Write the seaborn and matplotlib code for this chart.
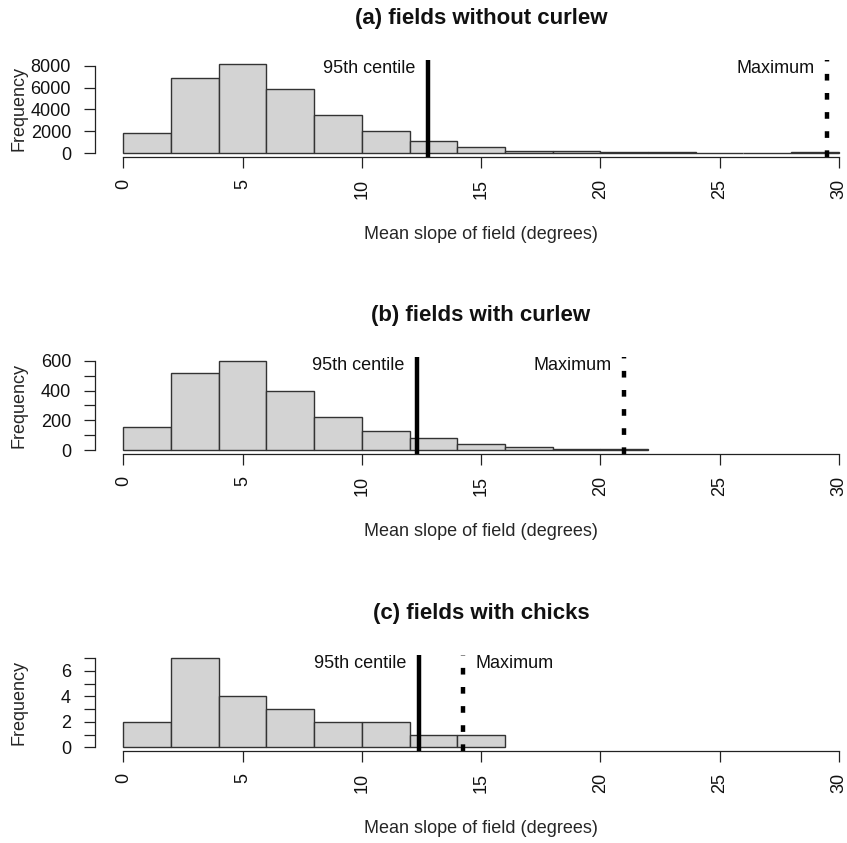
import numpy as np
import pandas as pd
import matplotlib
matplotlib.use("Agg")
import matplotlib.pyplot as plt
import matplotlib.transforms as mtransforms
import seaborn as sns

# ---------------- data ----------------
edges_a = list(range(0, 32, 2))
counts_a = [1830, 6900, 8180, 5850, 3500, 2040, 1080, 540, 230, 200, 90, 80, 70, 15, 80]
edges_b = list(range(0, 24, 2))
counts_b = [155, 520, 600, 396, 224, 125, 78, 38, 20, 10, 8]
edges_c = list(range(0, 18, 2))
counts_c = [2, 7, 4, 3, 2, 2, 1, 1]

titles = ["(a) fields without curlew", "(b) fields with curlew", "(c) fields with chicks"]
centile95 = [12.77, 12.31, 12.39]
maximum = [29.5, 21.0, 14.24]
max_label_side = ["left", "left", "right"]
yticks_major = [[0, 2000, 4000, 6000, 8000], [0, 200, 400, 600], [0, 2, 4, 6]]
yticks_minor = [[], [100, 300, 500], [1, 3, 5, 7]]
ytop = [8000, 600, 7]
xticks = [0, 5, 10, 15, 20, 25, 30]
xlabel = "Mean slope of field (degrees)"
ylabel = "Frequency"

# ---------------- style ----------------
sns.set_style("white")
plt.rcParams["font.family"] = ["Liberation Sans", "DejaVu Sans"]
plt.rcParams["text.color"] = "#111111"

W, H = 847, 843
fig = plt.figure(figsize=(W / 100, H / 100), dpi=100)

# plot-region pixel extents (top, bottom)
regions = [(60.1, 156.9), (357.4, 453.6), (654.7, 750.9)]
left_px, right_px = 94.7, 867.4

panels = [(edges_a, counts_a), (edges_b, counts_b), (edges_c, counts_c)]

for i, ((edges, counts), (tp, bp)) in enumerate(zip(panels, regions)):
    ax = fig.add_axes([left_px / W, 1 - bp / H, (right_px - left_px) / W, (bp - tp) / H])
    mids = [(edges[k] + edges[k + 1]) / 2 for k in range(len(counts))]
    df = pd.DataFrame({"slope": mids, "n": counts})
    sns.histplot(data=df, x="slope", weights="n", bins=edges, ax=ax,
                 color="#D3D3D3", edgecolor="#333333", linewidth=1.0, alpha=1.0)
    M = max(counts)
    ax.set_xlim(-1.2, 31.2)
    ax.set_ylim(-0.04 * M, 1.04 * M)

    for s in ["top", "right"]:
        ax.spines[s].set_visible(False)
    ax.spines["left"].set_bounds(0, ytop[i])
    ax.spines["bottom"].set_bounds(0, 30)
    for s in ["left", "bottom"]:
        ax.spines[s].set_color("#222222")
        ax.spines[s].set_linewidth(0.9)

    ax.set_xticks(xticks)
    ax.set_xticklabels([str(t) for t in xticks], rotation=90)
    ax.set_yticks(yticks_major[i])
    ax.set_yticklabels([str(t) for t in yticks_major[i]])
    if yticks_minor[i]:
        ax.set_yticks(yticks_minor[i], minor=True)
    ax.tick_params(axis="both", which="both", direction="out", length=8, width=0.9,
                   color="#222222", labelsize=13, labelcolor="#111111")
    ax.tick_params(axis="x", pad=8, bottom=True)
    ax.tick_params(axis="y", pad=9, left=True)
    ax.tick_params(axis="y", which="minor", length=8, left=True)

    ax.set_title(titles[i], fontsize=16, fontweight="bold", pad=26)

    hpx = bp - tp
    wpx = right_px - left_px
    ax.set_xlabel(xlabel, fontsize=13)
    ax.xaxis.set_label_coords(0.5, -(235 - 156.9) / 96.8)
    ax.xaxis.label.set_va("center")
    ax.set_ylabel(ylabel, fontsize=13)
    ax.yaxis.set_label_coords((19 - left_px) / wpx, 0.5)
    ax.yaxis.label.set_va("center")

    # reference lines
    ax.axvline(centile95[i], color="black", lw=3.2, solid_capstyle="butt")
    ax.axvline(maximum[i], color="black", lw=3.2, linestyle=(0, (1.5, 2.8)))

    trans = mtransforms.blended_transform_factory(ax.transData, ax.transAxes)
    ax.annotate("95th centile", xy=(centile95[i], 1.0), xycoords=trans,
                xytext=(-9, -6), textcoords="offset points", ha="right", va="center",
                fontsize=13)
    if max_label_side[i] == "left":
        ax.annotate("Maximum", xy=(maximum[i], 1.0), xycoords=trans,
                    xytext=(-9, -6), textcoords="offset points", ha="right", va="center",
                    fontsize=13)
    else:
        ax.annotate("Maximum", xy=(maximum[i], 1.0), xycoords=trans,
                    xytext=(9, -6), textcoords="offset points", ha="left", va="center",
                    fontsize=13)

fig.savefig("out.png", dpi=100)
